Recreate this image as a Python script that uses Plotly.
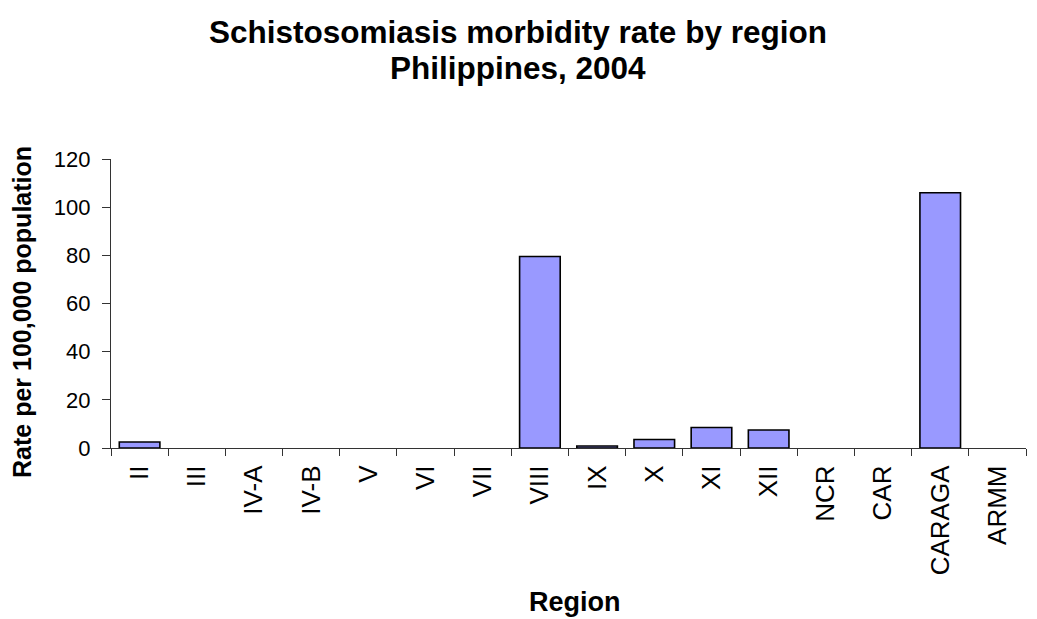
import plotly.graph_objects as go

regions = ["II", "III", "IV-A", "IV-B", "V", "VI", "VII", "VIII", "IX", "X",
           "XI", "XII", "NCR", "CAR", "CARAGA", "ARMM"]
rates = [2.5, 0, 0, 0, 0, 0, 0, 79.5, 0.8, 3.5, 8.5, 7.5, 0, 0, 106, 0]
y_ticks = [0, 20, 40, 60, 80, 100, 120]

title_lines = ["Schistosomiasis morbidity rate by region", "Philippines, 2004"]
x_title = "Region"
y_title = "Rate per 100,000 population"

font = "Liberation Sans, Arial, sans-serif"

# zero-valued bars show no outline in the reference
outline_widths = [1.6 if v > 0 else 0 for v in rates]

fig = go.Figure(go.Bar(
    x=regions, y=rates,
    marker=dict(color="#9999FF", line=dict(color="black", width=outline_widths)),
    width=0.71,
))

# page body has an 8px margin; figure sized to fit the window
OFF = 8
W, H = 1037 - OFF, 619 - OFF
L, T = 111 - OFF, 159 - OFF
R = W - (1026 - OFF)
B = H - (448 - OFF)
pw, ph = W - L - R, H - T - B


def px(x):
    return (x - OFF - L) / pw


def py(y):
    return (H - B - (y - OFF)) / ph


annotations = [
    dict(text="<b>%s</b>" % title_lines[0], x=px(518), y=py(32),
         font=dict(size=31.5, family=font, color="black")),
    dict(text="<b>%s</b>" % title_lines[1], x=px(518), y=py(68),
         font=dict(size=31.5, family=font, color="black")),
    dict(text="<b>%s</b>" % x_title, x=px(575), y=py(602),
         font=dict(size=27, family=font, color="black")),
    dict(text="<b>%s</b>" % y_title, x=px(22), y=py(312), textangle=-90,
         font=dict(size=25, family=font, color="black")),
]
for a in annotations:
    a.update(xref="paper", yref="paper", showarrow=False,
             xanchor="center", yanchor="middle")

fig.update_layout(
    width=W, height=H,
    paper_bgcolor="white", plot_bgcolor="white",
    margin=dict(l=L, r=R, t=T, b=B, autoexpand=False),
    showlegend=False,
    font=dict(family=font, color="black"),
    annotations=annotations,
)
fig.update_xaxes(
    type="category", tickangle=-90, tickson="boundaries",
    ticks="outside", ticklen=7, tickcolor="#333333", tickwidth=1,
    showline=True, linecolor="#333333", linewidth=1.2,
    tickfont=dict(size=26, family=font, color="black"),
    ticklabelstandoff=6,
    showgrid=False, automargin=False,
)
fig.update_yaxes(
    range=[0, 120], tickvals=y_ticks,
    ticks="outside", ticklen=8, tickcolor="#333333", tickwidth=1,
    showline=True, linecolor="#333333", linewidth=1.2,
    tickfont=dict(size=22, family=font, color="black"),
    ticklabelstandoff=7,
    showgrid=False, zeroline=False, automargin=False,
)

fig.write_html("out.html")
